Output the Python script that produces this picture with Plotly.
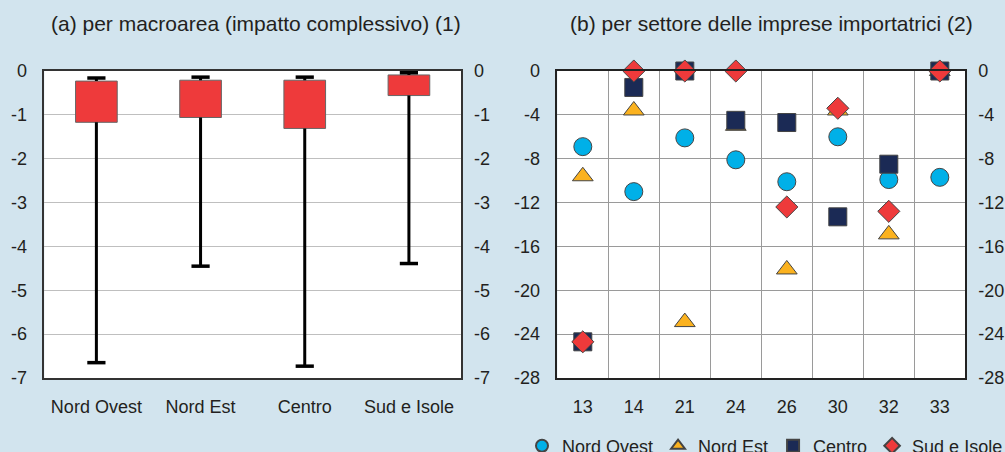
import plotly.graph_objects as go

# ---------------- data ----------------
regions = ["Nord Ovest", "Nord Est", "Centro", "Sud e Isole"]
box_top = [-0.23, -0.21, -0.21, -0.09]
box_bottom = [-1.17, -1.06, -1.31, -0.56]
whisker_top = [-0.16, -0.14, -0.14, -0.04]
whisker_bottom = [-6.65, -4.45, -6.73, -4.39]

sectors = ["13", "14", "21", "24", "26", "30", "32", "33"]
nord_ovest = [-6.9, -11.0, -6.1, -8.1, -10.1, -6.0, -9.9, -9.7]
nord_est = [-9.6, -3.6, -22.9, -5.0, -18.1, -3.6, -14.9, 0.0]
centro = [-24.7, -1.5, 0.0, -4.5, -4.7, -13.3, -8.5, 0.0]
sud_isole = [-24.7, 0.0, 0.0, 0.0, -12.4, -3.4, -12.8, 0.0]

left_ticks = [0, -1, -2, -3, -4, -5, -6, -7]
right_ticks = [0, -4, -8, -12, -16, -20, -24, -28]

title_a = "(a) per macroarea (impatto complessivo) (1)"
title_b = "(b) per settore delle imprese importatrici (2)"

# ---------------- style ----------------
BG = "#D2E4EE"
TXT = "#231F20"
RED = "#EE3A3B"
FONT = "Liberation Sans, Arial, sans-serif"
FS = 18
FS_TITLE = 21

fig = go.Figure()

# ---- panel (a) ----
box_height = [b - t for t, b in zip(box_top, box_bottom)]
fig.add_trace(go.Bar(
    x=regions, y=box_height, base=box_top, width=0.4,
    marker=dict(color=RED, line=dict(color="#666666", width=1)),
    xaxis="x", yaxis="y", showlegend=False, hoverinfo="skip"))

wx, wy = [], []
for r, wt, bt, bb, wb in zip(regions, whisker_top, box_top, box_bottom, whisker_bottom):
    wx += [r, r, None, r, r, None]
    wy += [wt, bt, None, bb, wb, None]
fig.add_trace(go.Scatter(
    x=wx, y=wy, mode="lines", line=dict(color="black", width=3),
    xaxis="x", yaxis="y", showlegend=False, hoverinfo="skip"))

fig.add_trace(go.Scatter(
    x=regions + regions, y=whisker_top + whisker_bottom, mode="markers",
    marker=dict(symbol="line-ew", size=13, line=dict(color="black", width=3.5)),
    xaxis="x", yaxis="y", showlegend=False, hoverinfo="skip", cliponaxis=False))

# invisible trace for mirrored right axis of panel (a)
fig.add_trace(go.Scatter(
    x=regions, y=box_top, mode="markers", opacity=0,
    xaxis="x", yaxis="y3", showlegend=False, hoverinfo="skip"))

# ---- panel (b) ----
series = [
    ("Nord Ovest", nord_ovest, "circle", "#00B0E8"),
    ("Nord Est", nord_est, "triangle-up", "#FBB21F"),
    ("Centro", centro, "square", "#1B2A55"),
    ("Sud e Isole", sud_isole, "diamond", RED),
]
for name, vals, sym, col in series:
    fig.add_trace(go.Scatter(
        x=sectors, y=vals, name=name, mode="markers",
        marker=dict(symbol=sym, size=18 if sym != "diamond" else 17, color=col,
                    line=dict(color="#444444", width=1)),
        xaxis="x2", yaxis="y2", cliponaxis=False))

fig.add_trace(go.Scatter(
    x=sectors, y=nord_ovest, mode="markers", opacity=0,
    xaxis="x2", yaxis="y4", showlegend=False, hoverinfo="skip"))

axis_font = dict(family=FONT, size=FS, color=TXT)
dom_a = [44.3 / 1005, 461 / 1005]
dom_b = [557.3 / 1005, 965.3 / 1005]
M_T, M_B = 71, 74
plot_h = 452 - M_T - M_B

fig.update_layout(
    width=1005, height=452,
    paper_bgcolor=BG, plot_bgcolor="white",
    margin=dict(l=0, r=0, t=M_T, b=M_B, autoexpand=False),
    font=dict(family=FONT, size=FS, color=TXT),
    barmode="overlay",
    showlegend=True,
    legend=dict(orientation="h", x=522 / 1005, xanchor="left",
                y=-(446 - (452 - M_B)) / plot_h, yanchor="middle",
                font=dict(family=FONT, size=FS, color=TXT), itemsizing="constant",
                bgcolor="rgba(0,0,0,0)", tracegroupgap=0),
    xaxis=dict(domain=dom_a, type="category", categoryorder="array", categoryarray=regions,
               range=[-0.5, 3.5], showgrid=False, showline=True, linecolor="#333333",
               linewidth=1.5, mirror=True, ticks="", tickfont=axis_font,
               ticklabelstandoff=12, anchor="y"),
    yaxis=dict(range=[-7, 0], tickvals=left_ticks, ticktext=[str(v) for v in left_ticks],
               showgrid=True, gridcolor="#BFBFBF", gridwidth=1, zeroline=False,
               showline=True, linecolor="#333333", linewidth=1.5, mirror=True,
               ticks="", tickfont=axis_font, ticklabelstandoff=12, anchor="x"),
    yaxis3=dict(range=[-7, 0], tickvals=left_ticks, ticktext=[str(v) for v in left_ticks],
                overlaying="y", side="right", anchor="x", showgrid=False, zeroline=False,
                ticks="", tickfont=axis_font, ticklabelstandoff=12),
    xaxis2=dict(domain=dom_b, type="category", categoryorder="array", categoryarray=sectors,
                range=[-0.5, 7.5], tickson="boundaries", showgrid=True, gridcolor="#9A9A9A",
                gridwidth=1, showline=True, linecolor="#222222", linewidth=1.5, mirror=True,
                ticks="", tickfont=axis_font, ticklabelstandoff=12, anchor="y2"),
    yaxis2=dict(range=[-28, 0], tickvals=right_ticks, ticktext=[str(v) for v in right_ticks],
                showgrid=True, gridcolor="#9A9A9A", gridwidth=1, zeroline=False,
                showline=True, linecolor="#222222", linewidth=1.5, mirror=True,
                ticks="", tickfont=axis_font, ticklabelstandoff=12, anchor="x2"),
    yaxis4=dict(range=[-28, 0], tickvals=right_ticks, ticktext=[str(v) for v in right_ticks],
                overlaying="y2", side="right", anchor="x2", showgrid=False, zeroline=False,
                ticks="", tickfont=axis_font, ticklabelstandoff=12),
    annotations=[
        dict(text=title_a, x=256 / 1005, xanchor="center", y=1 + (M_T - 24) / plot_h,
             yanchor="middle", xref="paper", yref="paper", showarrow=False,
             font=dict(family=FONT, size=FS_TITLE, color=TXT)),
        dict(text=title_b, x=771 / 1005, xanchor="center", y=1 + (M_T - 24) / plot_h,
             yanchor="middle", xref="paper", yref="paper", showarrow=False,
             font=dict(family=FONT, size=FS_TITLE, color=TXT)),
    ],
)

fig.write_html("out.html", config={"displayModeBar": False},
               post_script="document.body.style.margin='0';")
